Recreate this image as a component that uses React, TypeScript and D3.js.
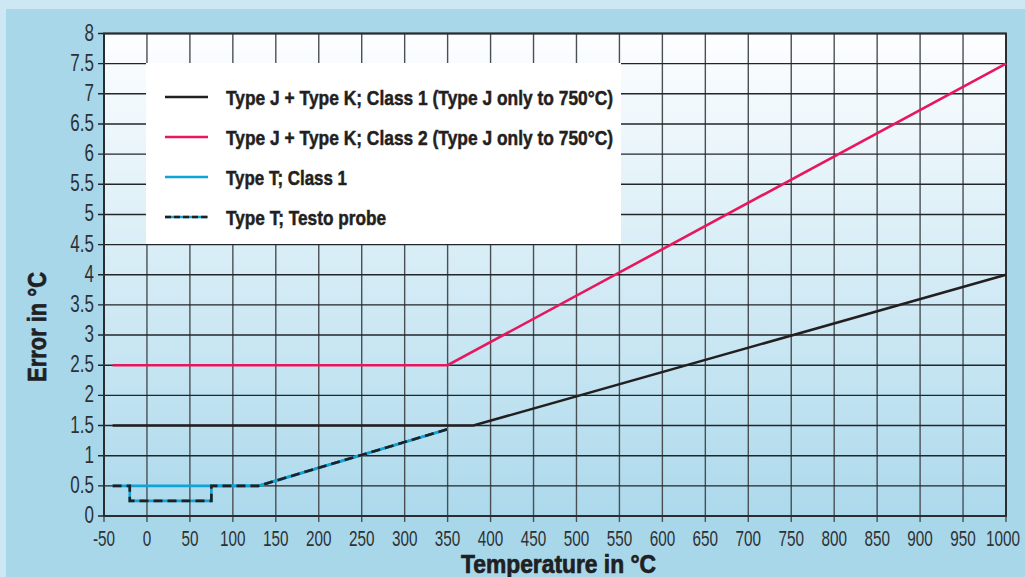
import { useEffect, useRef } from "react";
import * as d3 from "d3";

const xTicks = [-50, 0, 50, 100, 150, 200, 250, 300, 350, 400, 450, 500, 550, 600, 650, 700, 750, 800, 850, 900, 950, 1000];
const yTicks = [0, 0.5, 1, 1.5, 2, 2.5, 3, 3.5, 4, 4.5, 5, 5.5, 6, 6.5, 7, 7.5, 8];

// [temperature, error]
const class1JK: [number, number][] = [[-40, 1.5], [380, 1.5], [1000, 4]];
const class2JK: [number, number][] = [[-40, 2.5], [350, 2.5], [1000, 7.5]];
const class1T: [number, number][] = [[-20, 0.5], [130, 0.5], [350, 1.44]];
const testoT: [number, number][] = [[-40, 0.5], [-20, 0.5], [-20, 0.25], [75, 0.25], [75, 0.5], [130, 0.5], [350, 1.44]];

const legendLabels = [
  "Type J + Type K; Class 1 (Type J only to 750°C)",
  "Type J + Type K; Class 2 (Type J only to 750°C)",
  "Type T; Class 1",
  "Type T; Testo probe",
];

const W = 1025;
const H = 577;
const FONT = "'Liberation Sans', Arial, sans-serif";

function App() {
  const ref = useRef<SVGSVGElement | null>(null);

  useEffect(() => {
    const svg = d3.select(ref.current);
    svg.selectAll("*").remove();

    const x = d3.scaleLinear().domain([-50, 1000]).range([104, 1006]);
    const y = d3.scaleLinear().domain([0, 8]).range([516, 33.5]);

    // background
    svg.append("rect").attr("width", W).attr("height", H).attr("fill", "#cde8f3");
    svg.append("rect").attr("x", 6).attr("y", 9).attr("width", W - 6).attr("height", H - 9).attr("fill", "#a9d7ea");

    const defs = svg.append("defs");
    const grad = defs.append("linearGradient").attr("id", "plotGrad").attr("x1", 0).attr("y1", 0).attr("x2", 0).attr("y2", 1);
    grad.append("stop").attr("offset", "0%").attr("stop-color", "#fdfeff");
    grad.append("stop").attr("offset", "100%").attr("stop-color", "#acd9ec");

    svg.append("rect")
      .attr("x", x(-50)).attr("y", y(8))
      .attr("width", x(1000) - x(-50)).attr("height", y(0) - y(8))
      .attr("fill", "url(#plotGrad)");

    // grid
    svg.append("g").selectAll("line").data(xTicks).join("line")
      .attr("x1", (d) => x(d)).attr("x2", (d) => x(d))
      .attr("y1", y(8)).attr("y2", y(0) + 6)
      .attr("stroke", "#4a4f53").attr("stroke-width", 1.4);
    svg.append("g").selectAll("line").data(yTicks).join("line")
      .attr("x1", x(-50) - 6).attr("x2", x(1000))
      .attr("y1", (d) => y(d)).attr("y2", (d) => y(d))
      .attr("stroke", "#222629").attr("stroke-width", 1.4);

    svg.append("rect")
      .attr("x", x(-50)).attr("y", y(8))
      .attr("width", x(1000) - x(-50)).attr("height", y(0) - y(8))
      .attr("fill", "none").attr("stroke", "#2a2d30").attr("stroke-width", 2);

    // tick labels (squeezed to look condensed)
    svg.append("g").selectAll("text").data(yTicks).join("text")
      .attr("transform", (d) => `translate(94,${y(d) + 7}) scale(0.74,1)`)
      .attr("text-anchor", "end")
      .attr("font-family", FONT).attr("font-size", 23).attr("fill", "#2e3134")
      .text((d) => String(d));
    svg.append("g").selectAll("text").data(xTicks).join("text")
      .attr("transform", (d) => `translate(${d === 1000 ? x(d) - 3 : x(d)},546) scale(0.68,1)`)
      .attr("text-anchor", "middle")
      .attr("font-family", FONT).attr("font-size", 22.5).attr("fill", "#2e3134")
      .text((d) => String(d));

    // axis titles
    svg.append("text")
      .attr("transform", `translate(46,327) rotate(-90)`)
      .attr("text-anchor", "middle")
      .attr("font-family", FONT).attr("font-weight", "bold").attr("font-size", 26)
      .attr("fill", "#1e2022").attr("stroke", "#1e2022").attr("stroke-width", 0.7)
      .attr("textLength", 110).attr("lengthAdjust", "spacingAndGlyphs")
      .text("Error in °C");
    svg.append("text")
      .attr("x", 558.5).attr("y", 573)
      .attr("text-anchor", "middle")
      .attr("font-family", FONT).attr("font-weight", "bold").attr("font-size", 26)
      .attr("fill", "#1e2022").attr("stroke", "#1e2022").attr("stroke-width", 0.7)
      .attr("textLength", 195).attr("lengthAdjust", "spacingAndGlyphs")
      .text("Temperature in °C");

    // series
    const line = d3.line<[number, number]>().x((d) => x(d[0])).y((d) => y(d[1]));
    const g = svg.append("g").attr("fill", "none").attr("stroke-width", 2.6);
    g.append("path").datum(class1JK).attr("d", line).attr("stroke", "#231f20");
    g.append("path").datum(class2JK).attr("d", line).attr("stroke", "#e8175d");
    g.append("path").datum(class1T).attr("d", line).attr("stroke", "#0fa3d6");
    g.append("path").datum(testoT).attr("d", line).attr("stroke", "#0fa3d6");
    g.append("path").datum(testoT).attr("d", line).attr("stroke", "#231f20").attr("stroke-dasharray", "9 5");

    // legend
    svg.append("rect")
      .attr("x", 146).attr("y", 63).attr("width", 475).attr("height", 181)
      .attr("fill", "#ffffff");
    const colors = ["#231f20", "#e8175d", "#0fa3d6", "#0fa3d6"];
    const widths = [387, 387, 121, 160];
    legendLabels.forEach((label, i) => {
      const cy = 97 + i * 40;
      svg.append("line")
        .attr("x1", 165).attr("x2", 208).attr("y1", cy).attr("y2", cy)
        .attr("stroke", colors[i]).attr("stroke-width", 2.6);
      if (i === 3) {
        svg.append("line")
          .attr("x1", 165).attr("x2", 208).attr("y1", cy).attr("y2", cy)
          .attr("stroke", "#231f20").attr("stroke-width", 2.6).attr("stroke-dasharray", "6 3");
      }
      svg.append("text")
        .attr("x", 226).attr("y", cy + 7.5)
        .attr("font-family", FONT).attr("font-weight", "bold").attr("font-size", 21)
        .attr("fill", "#231f20").attr("stroke", "#231f20").attr("stroke-width", 0.5)
        .attr("textLength", widths[i]).attr("lengthAdjust", "spacingAndGlyphs")
        .text(label);
    });
  }, []);

  return (
    <svg
      ref={ref}
      width={W}
      height={H}
      viewBox={`0 0 ${W} ${H}`}
      style={{ position: "absolute", left: 0, top: 0, display: "block" }}
    />
  );
}

export default App;
